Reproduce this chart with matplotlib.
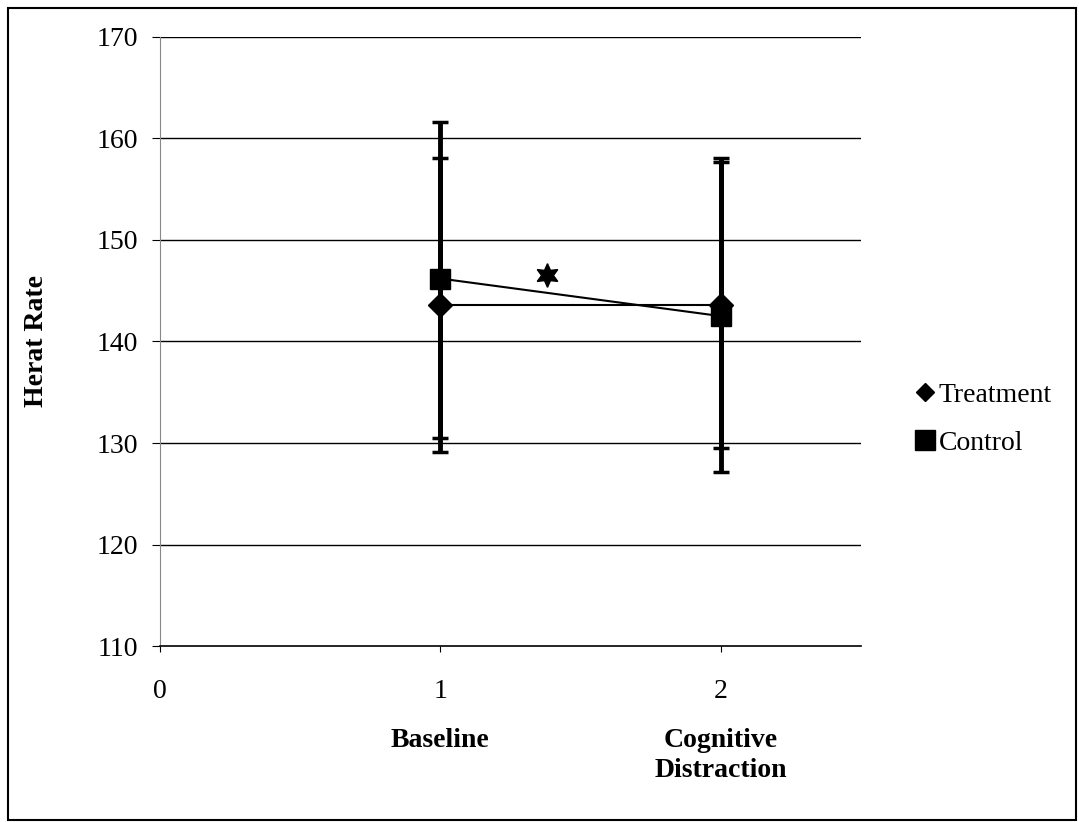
import numpy as np
import matplotlib.pyplot as plt
from matplotlib.patches import Rectangle
from matplotlib.lines import Line2D

plt.rcParams['font.family'] = ['Liberation Serif', 'DejaVu Serif']

x = [1, 2]
treatment = [143.6, 143.6]
treatment_lo = [129.1, 129.5]
treatment_hi = [158.1, 158.1]
control = [146.2, 142.5]
control_lo = [130.5, 127.1]
control_hi = [161.6, 157.7]
star_x, star_y = 1.38, 146.6
categories = ['Baseline', 'Cognitive\nDistraction']

fig = plt.figure(figsize=(10.79, 8.22), dpi=100)
ax = fig.add_axes([0.1483, 0.2141, 0.6497, 0.7409])

for yv in range(120, 171, 10):
    ax.axhline(yv, color='black', lw=1.0, zorder=1)

t_err = [np.array(treatment) - np.array(treatment_lo), np.array(treatment_hi) - np.array(treatment)]
c_err = [np.array(control) - np.array(control_lo), np.array(control_hi) - np.array(control)]

ax.errorbar(x, treatment, yerr=t_err, color='black', lw=1.5, elinewidth=3.5,
            capsize=6, capthick=2.5, marker='D', markersize=12, zorder=3)
ax.errorbar(x, control, yerr=c_err, color='black', lw=1.5, elinewidth=3.5,
            capsize=6, capthick=2.5, marker='s', markersize=14, zorder=3)
ax.plot([star_x], [star_y], marker=(6, 1, 0), markersize=17, color='black', zorder=4)

ax.set_xlim(0, 2.5)
ax.set_ylim(110, 170)
ax.set_yticks(range(110, 171, 10))
ax.set_xticks([0, 1, 2])
ax.tick_params(axis='y', labelsize=20, length=6, width=0.8, pad=10)
ax.tick_params(axis='x', labelsize=20, length=4, width=0.8, pad=20)
for s in ['top', 'right']:
    ax.spines[s].set_visible(False)
ax.spines['left'].set_color('#888888')
ax.spines['left'].set_linestyle((0, (1, 1)))
ax.spines['bottom'].set_linewidth(1.2)

for xi, lab in zip(x, categories):
    ax.text(xi, -0.135, lab, transform=ax.get_xaxis_transform(), ha='center', va='top',
            fontsize=20, fontweight='bold', linespacing=1.25)

ax.set_ylabel('Herat Rate', fontsize=20, fontweight='bold', labelpad=34)

handles = [Line2D([], [], color='black', marker='D', ls='none', markersize=9),
           Line2D([], [], color='black', marker='s', ls='none', markersize=14)]
fig.legend(handles, ['Treatment', 'Control'], loc='center left', bbox_to_anchor=(0.834, 0.49),
           frameon=False, fontsize=20, handletextpad=0.0, handlelength=1.0, labelspacing=0.8,
           borderaxespad=0)

fig.patches.append(Rectangle((0.007, 0.002), 0.99, 0.988, transform=fig.transFigure,
                             fill=False, edgecolor='black', lw=1.5))

fig.savefig('out.png', dpi=100)
